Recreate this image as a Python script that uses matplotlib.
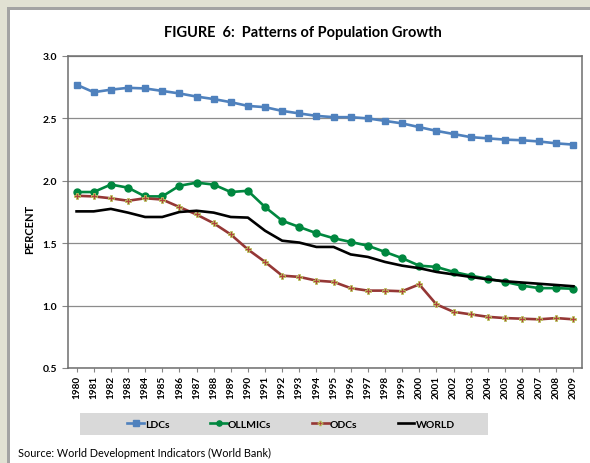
import numpy as np
from matplotlib import pyplot as plt
from matplotlib.patches import Rectangle

years = list(range(1980, 2010))

ldcs = [2.77, 2.71, 2.73, 2.745, 2.74, 2.72, 2.70, 2.675, 2.655, 2.63,
        2.60, 2.59, 2.56, 2.54, 2.52, 2.51, 2.51, 2.50, 2.48, 2.46,
        2.43, 2.40, 2.375, 2.35, 2.34, 2.33, 2.325, 2.315, 2.30, 2.29]
ollmics = [1.91, 1.91, 1.97, 1.945, 1.875, 1.875, 1.96, 1.985, 1.97, 1.91,
           1.92, 1.79, 1.68, 1.63, 1.58, 1.54, 1.51, 1.48, 1.43, 1.38,
           1.32, 1.31, 1.27, 1.24, 1.215, 1.19, 1.16, 1.14, 1.14, 1.135]
odcs = [1.88, 1.875, 1.86, 1.84, 1.86, 1.85, 1.79, 1.73, 1.66, 1.57,
        1.45, 1.35, 1.24, 1.23, 1.20, 1.19, 1.14, 1.12, 1.12, 1.115,
        1.17, 1.01, 0.95, 0.93, 0.91, 0.90, 0.895, 0.89, 0.90, 0.89]
world = [1.755, 1.755, 1.775, 1.745, 1.71, 1.71, 1.75, 1.76, 1.745, 1.71,
         1.705, 1.60, 1.52, 1.505, 1.47, 1.47, 1.41, 1.39, 1.35, 1.32,
         1.30, 1.27, 1.25, 1.23, 1.21, 1.195, 1.185, 1.175, 1.165, 1.155]

plt.rcParams['font.family'] = ['Lato', 'DejaVu Sans']

W, H = 590, 464
fig = plt.figure(figsize=(W / 100, H / 100), dpi=100)
fig.patch.set_facecolor('#e1e1d3')
# grey border + white panel
fig.patches.append(Rectangle((7 / W, 0), 1, (H - 8) / H, transform=fig.transFigure,
                             facecolor='#a3a3a3', edgecolor='none', zorder=-2))
fig.patches.append(Rectangle((10 / W, 0), 1, (H - 11) / H, transform=fig.transFigure,
                             facecolor='white', edgecolor='none', zorder=-1))

ax = fig.add_axes([68 / W, (H - 369) / H, (582 - 68) / W, (369 - 57) / H])

ax.plot(years, ldcs, color='#4f81bd', lw=1.9, marker='s', ms=5, label='LDCs')
ax.plot(years, ollmics, color='#00873f', lw=1.9, marker='o', ms=5, label='OLLMICs')
ax.plot(years, odcs, color='#953735', lw=1.9, marker='P', ms=4.6,
        mfc='#b0413e', mec='#b8c85e', mew=0.6, label='ODCs')
ax.plot(years, world, color='black', lw=1.9, label='WORLD')

ax.set_xlim(1979.5, 2009.5)
ax.set_ylim(0.5, 3.0)
ax.set_yticks([0.5, 1.0, 1.5, 2.0, 2.5, 3.0])
ax.set_yticklabels(['0.5', '1.0', '1.5', '2.0', '2.5', '3.0'], fontsize=7.5, fontweight='bold')
ax.set_xticks(years)
ax.set_xticklabels([str(y) for y in years], rotation=90, fontsize=7.2, fontweight='bold')
ax.tick_params(axis='y', length=4, color='#868686', width=0.8, pad=4)
ax.tick_params(axis='x', length=3, color='#868686', width=0.8, pad=2)
ax.grid(axis='y', color='#8c8c8c', lw=0.9)
ax.set_axisbelow(True)
for s in ax.spines.values():
    s.set_color('#6e6e6e')
    s.set_linewidth(1.1)

fig.text(303 / W, 1 - 33 / H, 'FIGURE  6:  Patterns of Population Growth',
         ha='center', va='center', fontsize=10.5, fontweight='bold')
fig.text(30 / W, 1 - 229 / H, 'PERCENT', rotation=90, ha='center', va='center',
         fontsize=8, fontweight='bold')

# legend band
fig.patches.append(Rectangle((80 / W, 1 - 436 / H), (488 - 80) / W, 22 / H,
                             transform=fig.transFigure, facecolor='#d9d9d9',
                             edgecolor='none', zorder=0))
handles, labels = ax.get_legend_handles_labels()
leg = fig.legend(handles, labels, loc='center', bbox_to_anchor=(291 / W, 1 - 425 / H),
                 ncol=4, frameon=False, handlelength=1.6, handletextpad=0.1,
                 columnspacing=3.9, prop={'size': 7.5, 'weight': 'bold'}, markerscale=0.75)

fig.text(18 / W, 1 - 453 / H, 'Source: World Development Indicators (World Bank)',
         ha='left', va='center', fontsize=7.8)

fig.savefig('out.png', dpi=100, facecolor=fig.get_facecolor())
